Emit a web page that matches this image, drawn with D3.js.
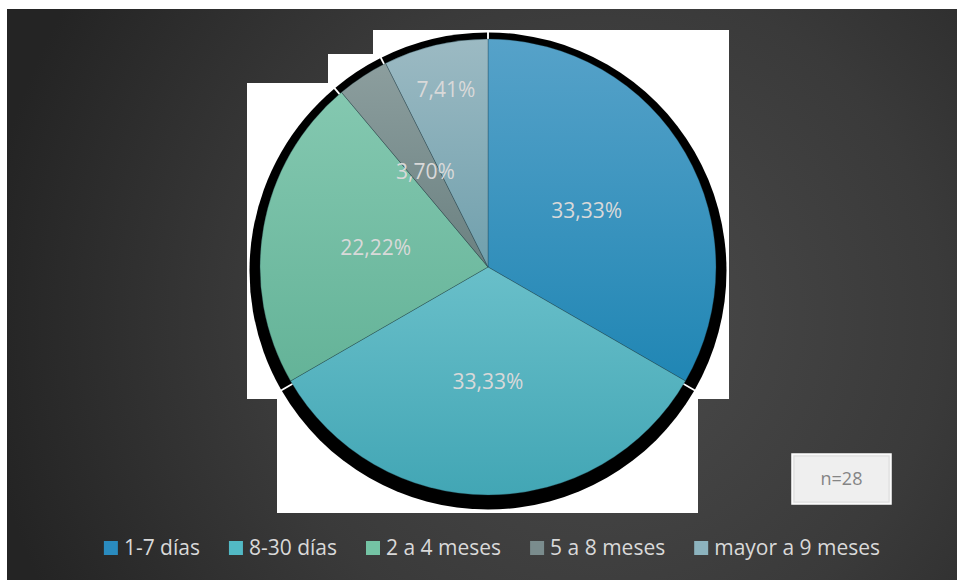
<!DOCTYPE html>
<html>
<head>
<meta charset="utf-8">
<script src="https://cdn.jsdelivr.net/npm/d3@7"></script>
<style>
  html, body { margin: 0; padding: 0; background: #ffffff; }
  svg { display: block; }
</style>
</head>
<body>
<svg id="chart" width="957" height="580"></svg>
<script>
// Tiempo transcurrido: share of respondents per duration band
const categories = ["1-7 días", "8-30 días", "2 a 4 meses", "5 a 8 meses", "mayor a 9 meses"];
const percentages = [33.33, 33.33, 22.22, 3.70, 7.41];
const sampleNote = "n=28";

const colorTop    = ["#56a2c9", "#69bfc9", "#84c8b0", "#8c9e9e", "#9cbac3"];
const colorBottom = ["#2086b4", "#42a6b5", "#64b398", "#6b8181", "#70a0ad"];
const legendColor = ["#2a8bbf", "#52b9c5", "#74c3a4", "#7a8c8d", "#8cb3be"];

const svg = d3.select("#chart");
const W = 957, H = 580;
const defs = svg.append("defs");

// Dark panel with soft radial shading
const bg = defs.append("radialGradient").attr("id", "bgGrad")
  .attr("gradientUnits", "userSpaceOnUse")
  .attr("cx", 600).attr("cy", 320).attr("r", 620);
bg.append("stop").attr("offset", "0%").attr("stop-color", "#4b4b4b");
bg.append("stop").attr("offset", "55%").attr("stop-color", "#3a3a3a");
bg.append("stop").attr("offset", "100%").attr("stop-color", "#242424");

svg.append("rect").attr("x", 7).attr("y", 9).attr("width", W - 7).attr("height", H - 9)
  .attr("fill", "url(#bgGrad)");

// White backing blocks behind the pie
const backing = [
  [373, 30, 729, 399],
  [328, 54, 373, 399],
  [247, 83, 328, 399],
  [277, 399, 698, 513]
];
svg.append("g").selectAll("rect").data(backing).join("rect")
  .attr("x", d => d[0]).attr("y", d => d[1])
  .attr("width", d => d[2] - d[0]).attr("height", d => d[3] - d[1])
  .attr("fill", "#ffffff");

// Pie geometry
const cx = 488, cy = 267, R = 228;
const data = categories.map((c, i) => ({ label: c, value: percentages[i], i }));
const pie = d3.pie().value(d => d.value).sort(null);
const arcs = pie(data);

// Per-slice gradients
data.forEach((d, i) => {
  const g = defs.append("linearGradient").attr("id", "slice" + i)
    .attr("x1", 0).attr("y1", 0).attr("x2", 0).attr("y2", 1);
  g.append("stop").attr("offset", "0%").attr("stop-color", colorTop[i]);
  g.append("stop").attr("offset", "100%").attr("stop-color", colorBottom[i]);
});

// Heavy black shadow behind each slice
const shadowArc = d3.arc().innerRadius(0).outerRadius(R + 10.5).padAngle(0.008).padRadius(R + 10.5);
svg.append("g").attr("transform", `translate(${cx},${cy + 4})`)
  .selectAll("path").data(arcs).join("path")
  .attr("d", shadowArc)
  .attr("fill", "#000000");

// Slices
const arc = d3.arc().innerRadius(0).outerRadius(R);
const pieG = svg.append("g").attr("transform", `translate(${cx},${cy})`);
pieG.selectAll("path").data(arcs).join("path")
  .attr("d", arc)
  .attr("fill", (d, i) => `url(#slice${i})`)
  .attr("stroke", "rgba(30,60,70,0.45)")
  .attr("stroke-width", 0.7);

// Percentage labels
const fmt = v => v.toFixed(2).replace(".", ",") + "%";
const labelRadius = d => d.data.label === "mayor a 9 meses" ? R * 0.8 : R * 0.5;
pieG.selectAll("text").data(arcs).join("text")
  .attr("transform", d => {
    const a = (d.startAngle + d.endAngle) / 2;
    const r = labelRadius(d);
    return `translate(${Math.sin(a) * r},${-Math.cos(a) * r})`;
  })
  .attr("text-anchor", "middle")
  .attr("dy", "0.36em")
  .attr("font-family", "'Open Sans', 'Noto Sans', sans-serif")
  .attr("font-size", 21)
  .attr("fill", "#d9d9d9")
  .text(d => fmt(d.data.value));

// Legend
const legend = svg.append("g");
const legendFont = "'Open Sans', 'Noto Sans', sans-serif";
const legendGap = 29;
const items = legend.selectAll("g").data(data).join("g");
items.append("rect").attr("width", 14).attr("height", 14).attr("y", -14)
  .attr("fill", (d, i) => legendColor[i]);
items.append("text").attr("x", 20).attr("y", 0)
  .attr("font-family", legendFont).attr("font-size", 21)
  .attr("fill", "#d9d9d9")
  .text(d => d.label);
let xPos = 0;
items.each(function () {
  const g = d3.select(this);
  const w = g.select("text").node().getComputedTextLength();
  g.attr("transform", `translate(${xPos},0)`);
  xPos += 20 + w + legendGap;
});
const legendWidth = xPos - legendGap;
legend.attr("transform", `translate(${492 - legendWidth / 2},555)`);

// Sample size note
const note = svg.append("g").attr("transform", "translate(792,454)");
note.append("rect").attr("width", 99).attr("height", 50)
  .attr("fill", "#efefef").attr("stroke", "#ffffff").attr("stroke-width", 1.5);
note.append("rect").attr("x", 2).attr("y", 2).attr("width", 95).attr("height", 46)
  .attr("fill", "none").attr("stroke", "#dcdcdc").attr("stroke-width", 1);
note.append("text").attr("x", 49.5).attr("y", 25).attr("dy", "0.36em")
  .attr("text-anchor", "middle")
  .attr("font-family", "'Open Sans', 'Noto Sans', sans-serif")
  .attr("font-size", 18).attr("fill", "#858585")
  .text(sampleNote);
</script>
</body>
</html>
